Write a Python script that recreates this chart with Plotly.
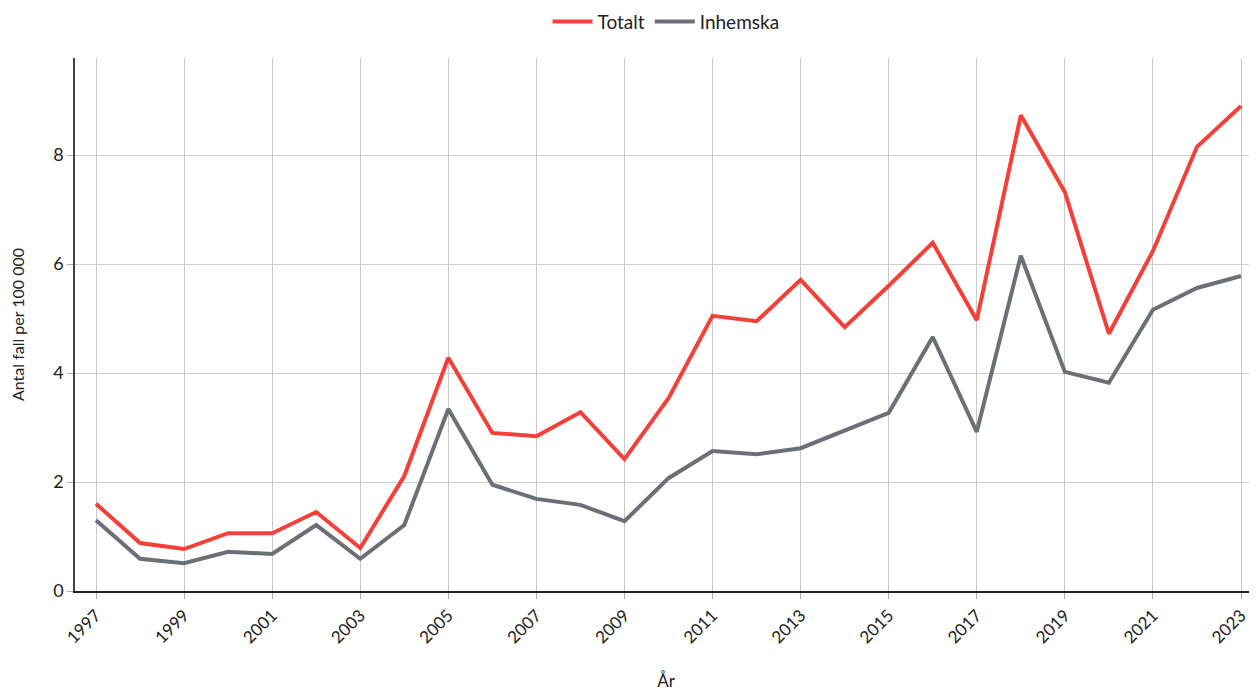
import plotly.graph_objects as go

years = list(range(1997, 2024))
totalt = [1.60, 0.88, 0.77, 1.06, 1.06, 1.45, 0.79, 2.11, 4.28, 2.90, 2.84, 3.28, 2.42,
          3.54, 5.05, 4.95, 5.71, 4.84, 5.60, 6.39, 4.97, 8.73, 7.32, 4.72, 6.24, 8.15, 8.90]
inhemska = [1.30, 0.59, 0.51, 0.72, 0.68, 1.21, 0.59, 1.21, 3.34, 1.95, 1.69, 1.58, 1.28,
            2.07, 2.57, 2.51, 2.62, 2.95, 3.27, 4.66, 2.92, 6.15, 4.02, 3.82, 5.16, 5.56, 5.78]
tick_years = list(range(1997, 2024, 2))
y_ticks = [0, 2, 4, 6, 8]

fig = go.Figure()
fig.add_trace(go.Scatter(x=years, y=totalt, name="Totalt", mode="lines",
                         line=dict(color="#f5403a", width=4)))
fig.add_trace(go.Scatter(x=years, y=inhemska, name="Inhemska", mode="lines",
                         line=dict(color="#6b6f78", width=4)))

font_family = "Lato, Noto Sans, sans-serif"
fig.update_layout(
    width=1249, height=683,
    margin=dict(l=67, r=0, t=50, b=100, autoexpand=False),
    plot_bgcolor="white", paper_bgcolor="white",
    font=dict(family=font_family, size=16, color="#222222"),
    showlegend=True,
    legend=dict(orientation="h", x=0.5, xanchor="center", y=1.068, yref="paper",
                yanchor="middle", font=dict(size=19, color="#222222"),
                itemwidth=40),
    xaxis=dict(
        range=[1996.523, 2023.363],
        tickmode="array", tickvals=tick_years, ticktext=[str(y) for y in tick_years],
        tickangle=-45,
        showgrid=True, gridcolor="#c8c8c8", gridwidth=1,
        showline=True, linecolor="#222222", linewidth=1.5,
        ticks="outside", ticklen=6, tickcolor="#aaaaaa",
        zeroline=False, automargin=False,
        title=dict(text="År", font=dict(size=17), standoff=34),
        tickfont=dict(size=17),
    ),
    yaxis=dict(
        range=[0, 9.78],
        tickmode="array", tickvals=y_ticks,
        showgrid=True, gridcolor="#d0d0d0", gridwidth=1,
        showline=True, linecolor="#444444", linewidth=1.5,
        ticks="outside", ticklen=6, tickcolor="#aaaaaa",
        zeroline=False, automargin=False,
        title=dict(text="Antal fall per 100 000", font=dict(size=16), standoff=26),
        tickfont=dict(size=18),
    ),
)

fig.write_html("out.html")
